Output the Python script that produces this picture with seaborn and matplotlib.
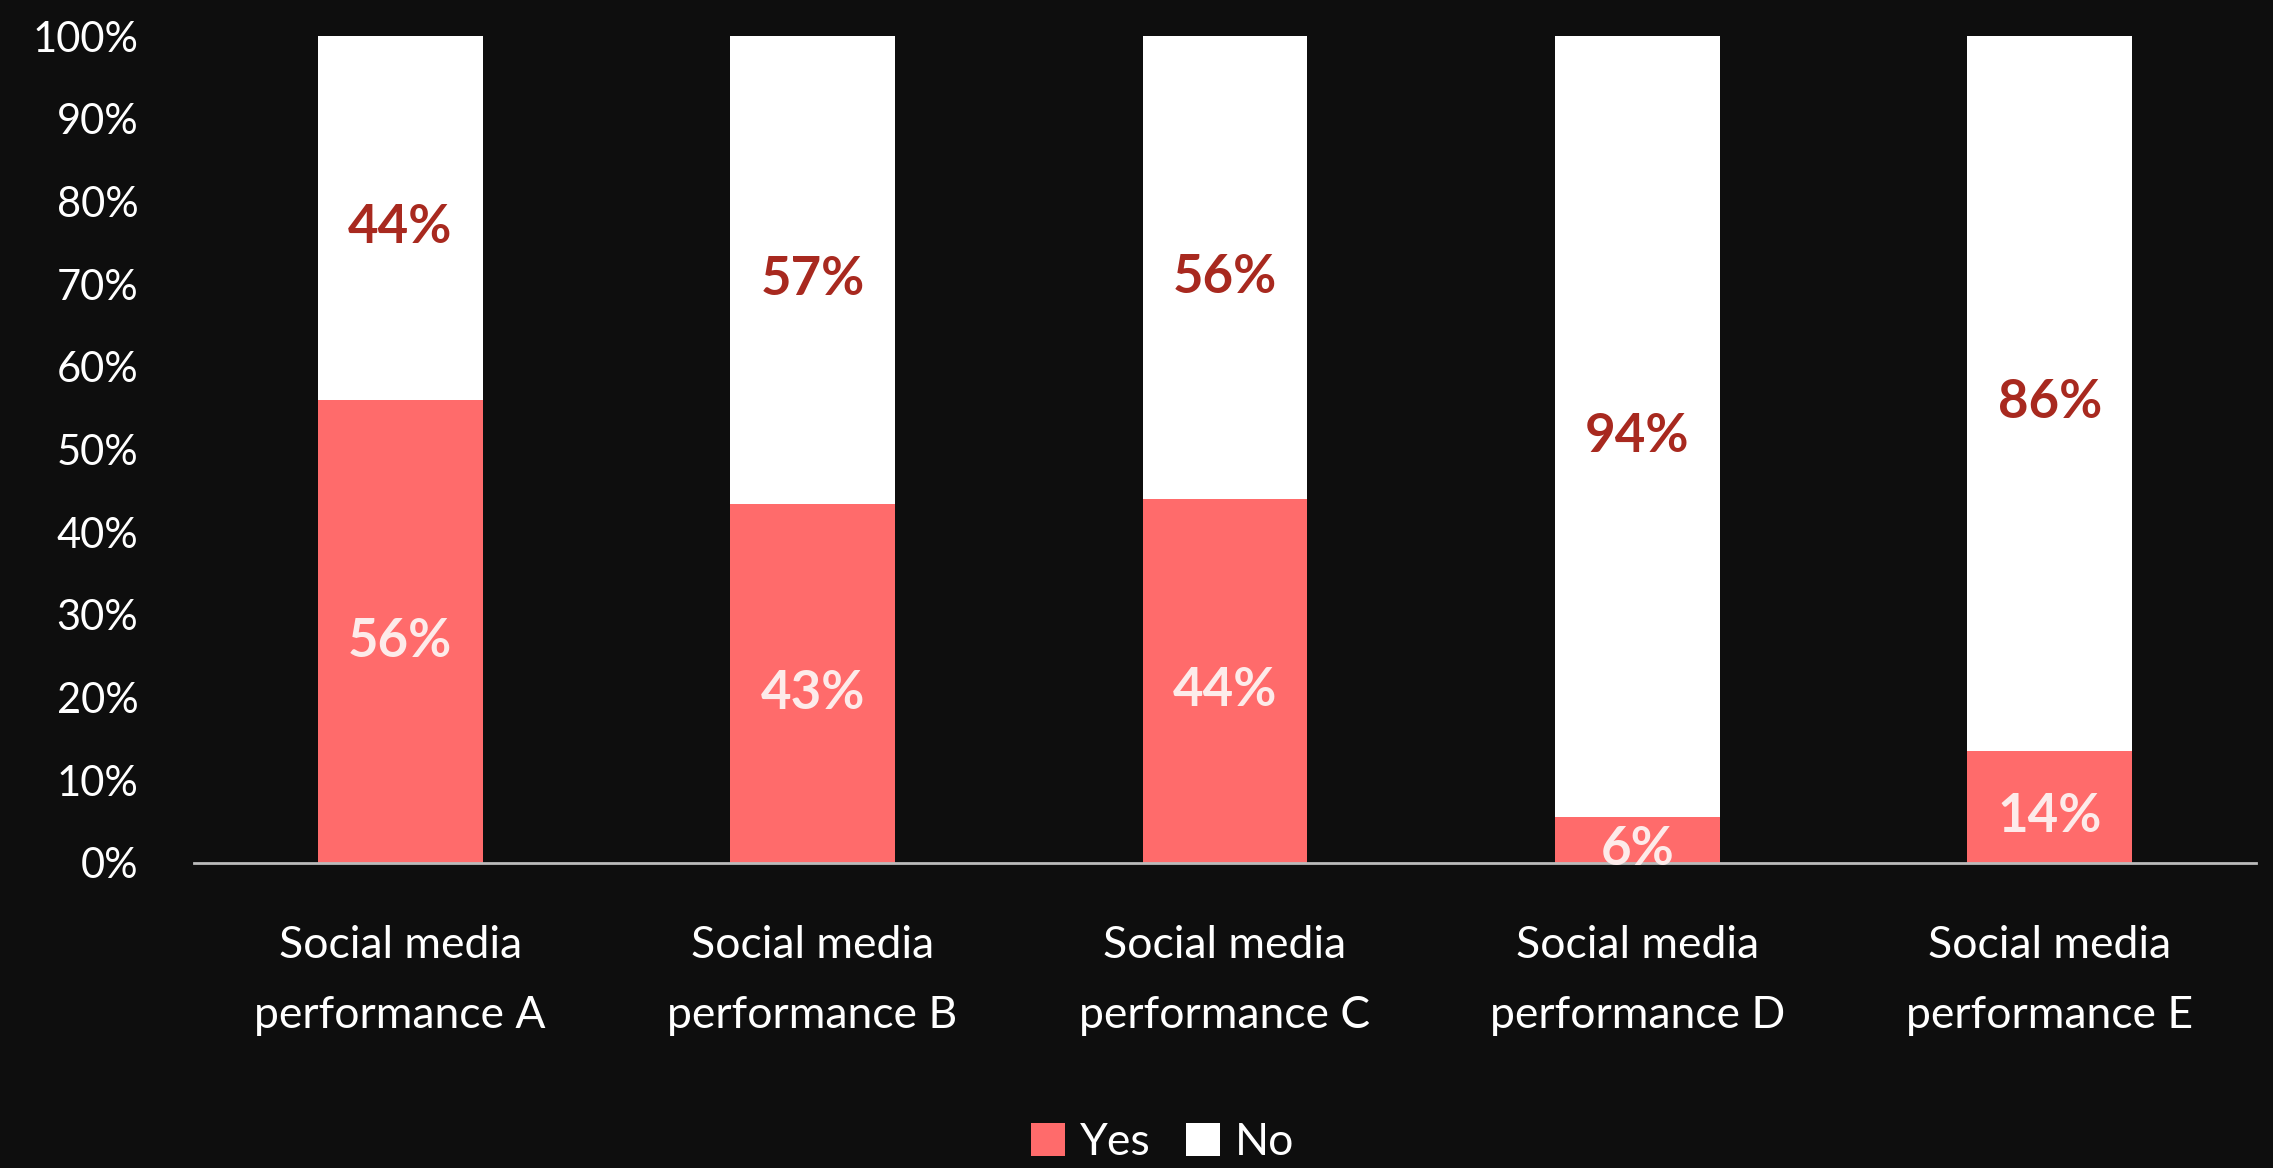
import matplotlib
matplotlib.use("Agg")
import matplotlib.pyplot as plt
import seaborn as sns
import pandas as pd
from matplotlib.patches import Patch

categories = ["Social media\nperformance A", "Social media\nperformance B",
              "Social media\nperformance C", "Social media\nperformance D",
              "Social media\nperformance E"]
yes_values = [56, 43.4, 44, 5.6, 13.6]
no_values = [44, 56.6, 56, 94.4, 86.4]
series_names = ["Yes", "No"]
y_ticks = [0, 10, 20, 30, 40, 50, 60, 70, 80, 90, 100]
y_tick_labels = [f"{t}%" for t in y_ticks]

BG = "#0E0E0E"
PINK = "#FF6B6B"
WHITE = "#FFFFFF"
NO_LABEL = "#A8291F"
YES_LABEL = "#FDEBEA"

sns.set_theme(style="dark")
plt.rcParams["font.family"] = ["Lato", "DejaVu Sans"]

W, H = 2273, 1168
fig = plt.figure(figsize=(W / 100, H / 100), dpi=100, facecolor=BG)
ax = fig.add_axes([194 / W, 1 - 863 / H, (2256 - 194) / W, (863 - 36) / H])
ax.set_facecolor(BG)

df = pd.DataFrame({"cat": categories, "yes": yes_values, "no": no_values})
df["total"] = df["yes"] + df["no"]

sns.barplot(data=df, x="cat", y="total", color=WHITE, width=0.4, ax=ax,
            saturation=1, linewidth=0, zorder=2)
sns.barplot(data=df, x="cat", y="yes", color=PINK, width=0.4, ax=ax,
            saturation=1, linewidth=0, zorder=3)

for i, (y, n) in enumerate(zip(yes_values, no_values)):
    ax.annotate(f"{round(y)}%", (i, y / 2), xytext=(0, -7), textcoords="offset points",
                ha="center", va="center", color=YES_LABEL, fontsize=38,
                fontweight="bold", zorder=6, annotation_clip=False)
    ax.annotate(f"{round(n)}%", (i, y + n / 2), xytext=(0, -7), textcoords="offset points",
                ha="center", va="center", color=NO_LABEL, fontsize=38,
                fontweight="bold", zorder=6)

ax.set_xlim(-0.5, 4.5)
ax.set_ylim(0, 100)
ax.set_yticks(y_ticks)
ax.set_yticklabels(y_tick_labels, fontsize=30, color="white")
ax.set_xticks(range(len(categories)))
ax.set_xticklabels(categories, fontsize=32, color="white", linespacing=1.85)
ax.tick_params(axis="y", length=0, pad=40)
ax.tick_params(axis="x", length=0, pad=45)
ax.set_xlabel("")
ax.set_ylabel("")
ax.grid(False)
for s in ["left", "right", "top"]:
    ax.spines[s].set_visible(False)
ax.spines["bottom"].set_color("#BBBBBB")
ax.spines["bottom"].set_linewidth(2)
ax.spines["bottom"].set_zorder(5)

handles = [Patch(facecolor=PINK, edgecolor="none", label=series_names[0]),
           Patch(facecolor=WHITE, edgecolor="none", label=series_names[1])]
leg = fig.legend(handles=handles, loc="lower center", bbox_to_anchor=(1163 / W, -0.03),
                 ncol=2, frameon=False, fontsize=32, handlelength=0.75,
                 handleheight=0.75, handletextpad=0.35, columnspacing=0.8)
for t in leg.get_texts():
    t.set_color("white")

fig.savefig("out.png", dpi=100, facecolor=BG)
